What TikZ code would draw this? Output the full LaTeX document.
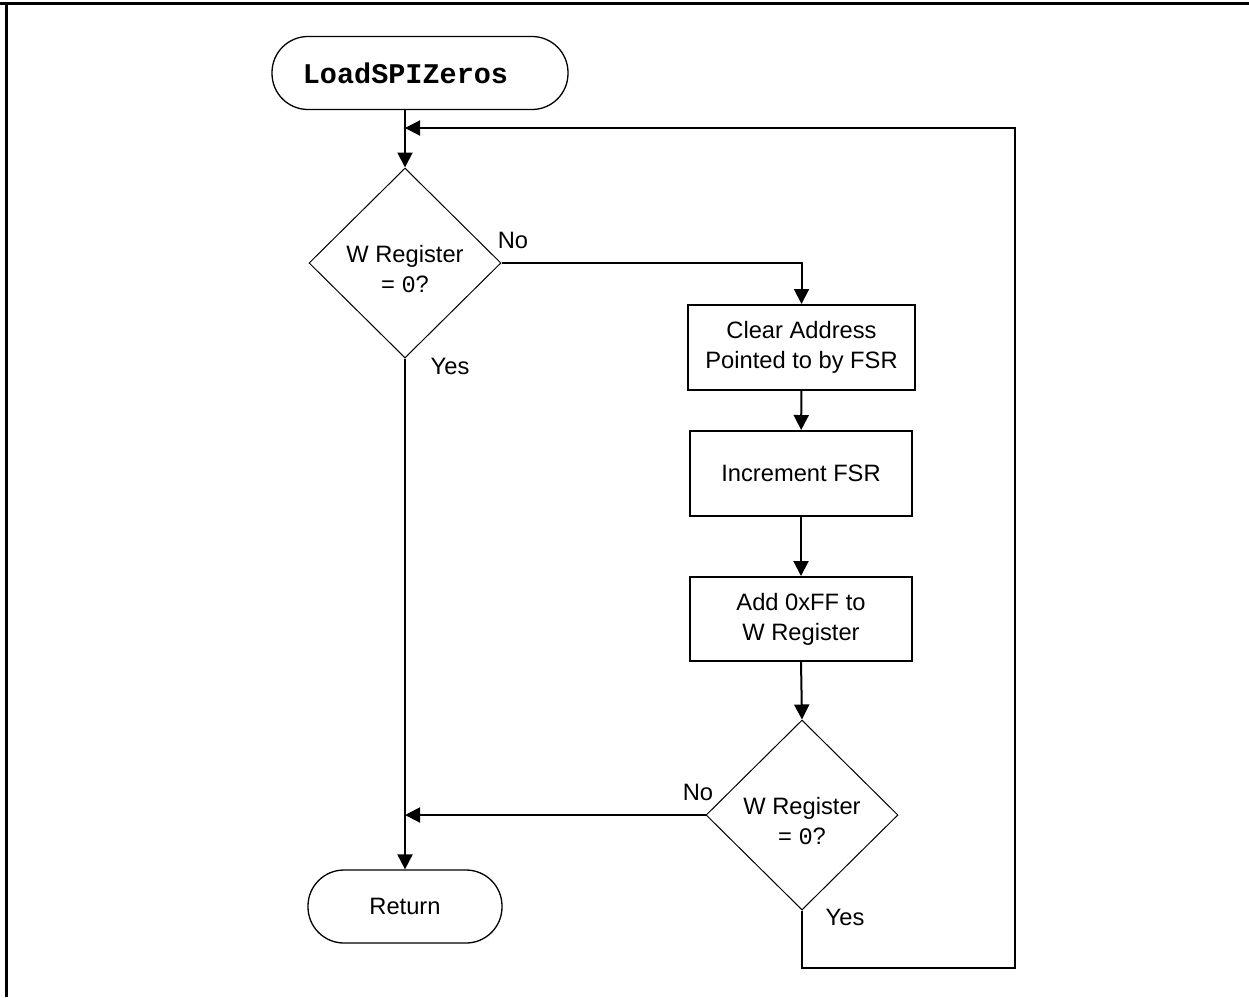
\documentclass[tikz,border=0pt]{standalone}
\usepackage{fontspec}
\setmainfont{Liberation Sans}
\newfontfamily\codefont{Liberation Mono}
\usetikzlibrary{shapes.geometric,arrows.meta}
\begin{document}
\begin{tikzpicture}[x=1pt,y=-1pt,
  every node/.style={font=\fontsize{23.7}{30}\selectfont},
  terminal/.style={draw,line width=1.3pt,rounded corners=36pt,minimum height=73pt,inner sep=0pt},
  process/.style={draw,line width=2pt,minimum width=222pt,minimum height=85pt,align=center,inner sep=0pt},
  decision/.style={draw,diamond,line width=1pt,minimum width=192pt,minimum height=190pt,inner sep=0pt},
  caption/.style={align=center,inner sep=0pt},
  flow/.style={line width=2pt,-{Triangle[length=15pt,width=15pt]}},
  wire/.style={line width=2pt},
  tag/.style={inner sep=0pt}]
\useasboundingbox (0,0) rectangle (1249,997);
% frame
\draw[line width=2.5pt] (0,3.5) -- (1249,3.5);
\draw[line width=2.2pt] (6.5,3.5) -- (6.5,997);

% nodes
\node[terminal,minimum width=296pt] (start) at (420,73) {};
\node[tag] (startlbl) at (405.5,73) {\fontsize{28.5}{30}\selectfont\codefont\bfseries LoadSPIZeros};
\node[decision] (dec1) at (405,263) {};
\node[caption] (dec1lbl) at (405,269) {W Register\\= {\codefont 0}?};
\node[process,minimum width=227pt] (clr) at (801.5,347.5) {Clear Address\\Pointed to by FSR};
\node[process] (inc) at (801,473.5) {Increment FSR};
\node[process,minimum height=84pt] (add) at (801,619) {Add 0xFF to\\W Register};
\node[decision] (dec2) at (802,815) {};
\node[caption] (dec2lbl) at (802,821) {W Register\\= {\codefont 0}?};
\node[terminal,minimum width=194pt] (ret) at (405,906.5) {Return};

% loop-back route
\coordinate (lb) at (802,968);
\coordinate (rb) at (1015,968);
\coordinate (rt) at (1015,128);
\coordinate (join) at (405,128);

% connectors
\draw[flow] (dec1.north |- start.south) -- (dec1.north);
\draw[flow] (dec1.east) -| (clr.north);
\draw[flow] (clr) -- (inc);
\draw[flow] (inc) -- (add);
\draw[flow] (add.south) -- (dec2.north);
\draw[flow] (dec2.west) -- (dec2.west -| dec1.south);
\draw[flow] (dec1.south) -- (ret.north);
\draw[wire] (dec2.south) -- (lb) -- (rb) -- (rt) -- (join);
\draw[flow] (rt) -- (join);

% branch labels
\node[tag] (no1) at (513,240) {No};
\node[tag] (yes1) at (450,366) {Yes};
\node[tag] (no2) at (698,792) {No};
\node[tag] (yes2) at (845,917) {Yes};
\end{tikzpicture}
\end{document}
